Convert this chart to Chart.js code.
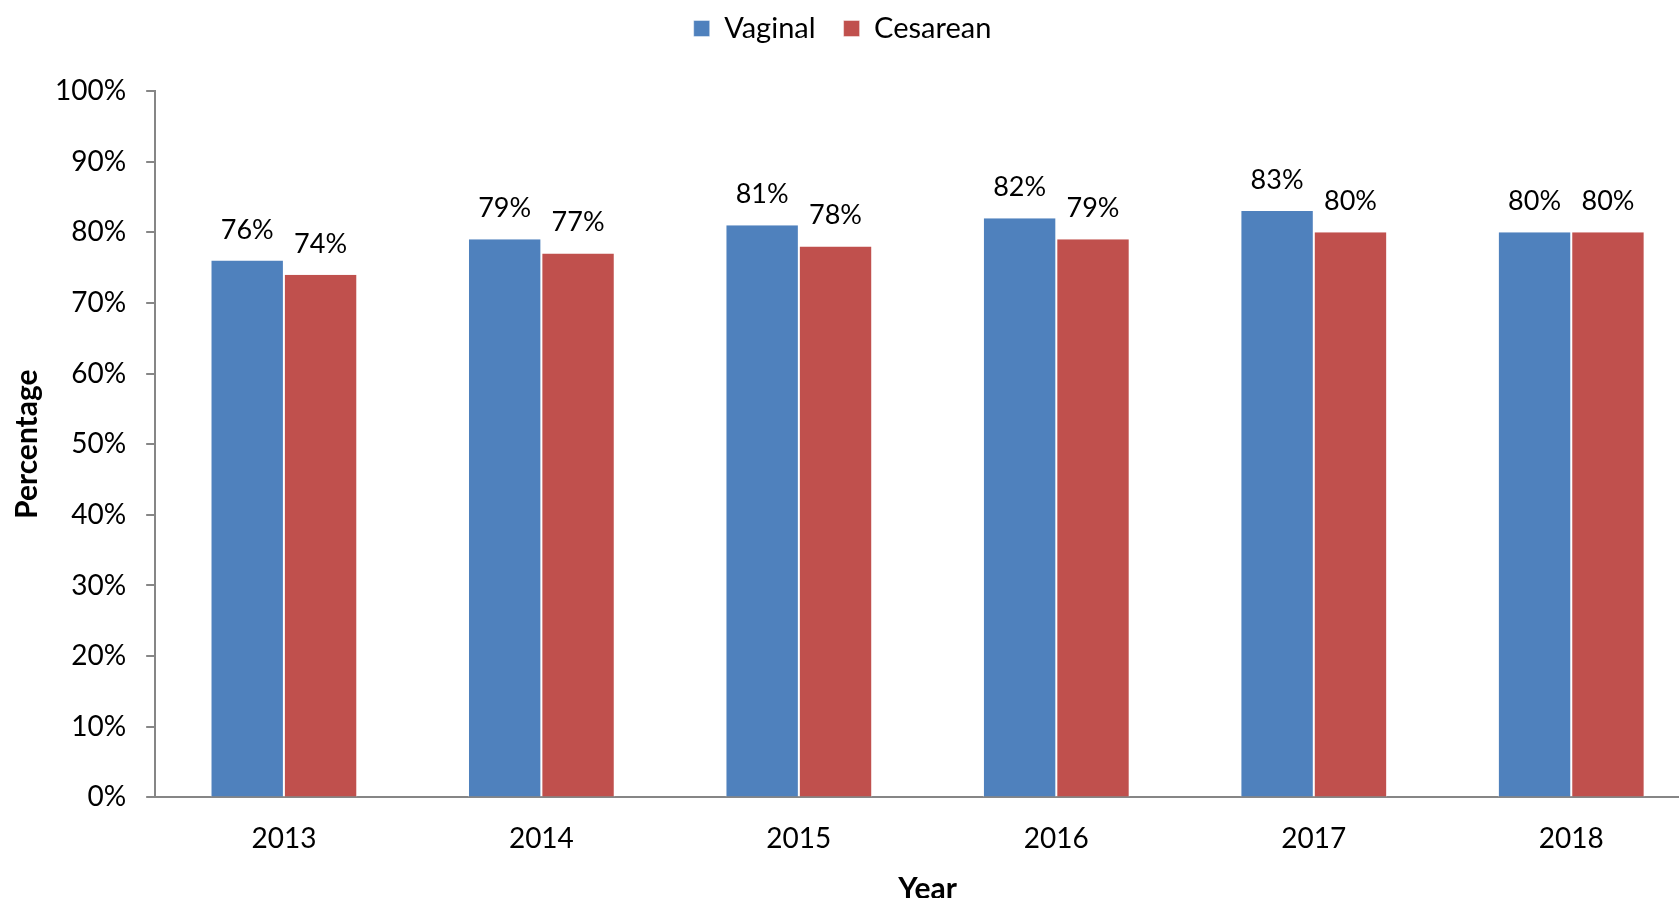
<!DOCTYPE html>
<html>
<head>
<meta charset="utf-8">
<script src="https://cdn.jsdelivr.net/npm/chart.js@4.4.1/dist/chart.umd.min.js"></script>
<style>
html,body{margin:0;padding:0;background:#fff;overflow:hidden;width:1679px;height:898px;}
#wrap{position:absolute;left:0;top:0;width:1702px;height:907px;}
</style>
</head>
<body>
<div id="wrap"><canvas id="c"></canvas></div>
<script>
const categories = ['2013','2014','2015','2016','2017','2018'];
const vaginal = [76, 79, 81, 82, 83, 80];
const cesarean = [74, 77, 78, 79, 80, 80];
const seriesNames = ['Vaginal','Cesarean'];
const yTicks = [0,10,20,30,40,50,60,70,80,90,100];

const FONT = "Lato, 'Open Sans', sans-serif";

const valueLabels = {
  id:'valueLabels',
  afterDatasetsDraw(chart){
    const ctx = chart.ctx;
    ctx.save();
    ctx.font = "27px " + FONT;
    ctx.fillStyle = '#000';
    ctx.textAlign = 'center';
    ctx.textBaseline = 'alphabetic';
    chart.data.datasets.forEach((ds,i)=>{
      const meta = chart.getDatasetMeta(i);
      meta.data.forEach((el,j)=>{
        ctx.fillText(ds.data[j] + '%', el.x, el.y - 22);
      });
    });
    ctx.restore();
  }
};

const legendTweak = {
  id:'legendTweak',
  beforeLayout(chart){
    const lg = chart.legend;
    if (lg && !lg._patched){
      const orig = lg.fit;
      lg.fit = function(){ orig.call(this); this.height += 20; };
      lg._patched = true;
    }
  },
  afterLayout(chart){
    const lg = chart.legend;
    if (!lg) return;
    lg.left -= 12; lg.right -= 12;
    lg.top -= 18; lg.bottom -= 18;
  }
};

new Chart(document.getElementById('c'), {
  type:'bar',
  data:{
    labels: categories,
    datasets:[
      {label: seriesNames[0], data: vaginal, backgroundColor:'#4F81BD', borderColor:'rgba(255,255,255,0.85)', borderWidth:{left:1,right:1,top:0,bottom:0}},
      {label: seriesNames[1], data: cesarean, backgroundColor:'#C0504D', borderColor:'rgba(255,255,255,0.85)', borderWidth:{left:1,right:1,top:0,bottom:0}}
    ]
  },
  options:{
    responsive:true,
    maintainAspectRatio:false,
    animation:false,
    layout:{padding:{left:9,right:2,top:4,bottom:0}},
    datasets:{bar:{categoryPercentage:0.57, barPercentage:1.0}},
    plugins:{
      legend:{
        position:'top',
        labels:{
          font:{family:FONT, size:29},
          color:'#000',
          boxWidth:16, boxHeight:16,
          padding:28
        }
      },
      tooltip:{enabled:false}
    },
    scales:{
      x:{
        grid:{display:false, drawTicks:false},
        border:{display:true, color:'#868686', width:2},
        ticks:{font:{family:FONT,size:28}, color:'#000', padding:25},
        title:{display:true, text:'Year', font:{family:FONT,size:30,weight:'bold'}, color:'#000', padding:{top:-10,bottom:0}}
      },
      y:{
        min:0, max:100,
        afterBuildTicks(axis){ axis.ticks = yTicks.map(v=>({value:v})); },
        grid:{drawOnChartArea:false, drawTicks:true, tickLength:9, color:'#868686', lineWidth:2},
        border:{display:true, color:'#868686', width:2},
        ticks:{font:{family:FONT,size:28}, color:'#000', padding:20, callback:(v)=>v+'%'},
        title:{display:true, text:'Percentage', font:{family:FONT,size:30,weight:'bold'}, color:'#000', padding:{top:0,bottom:-10}}
      }
    }
  },
  plugins:[valueLabels, legendTweak]
});
</script>
</body>
</html>
